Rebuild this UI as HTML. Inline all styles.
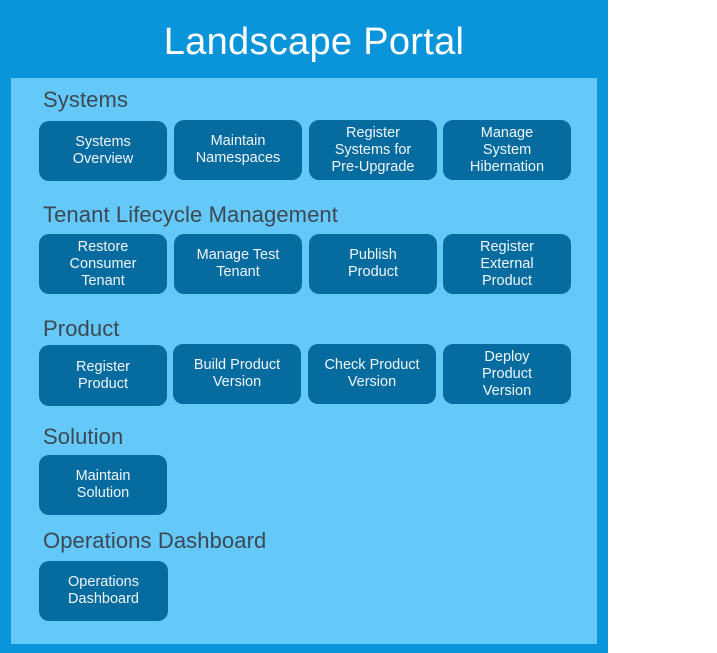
<!DOCTYPE html>
<html><head><meta charset="utf-8"><style>
body{margin:0;width:717px;height:653px;background:#fff;position:relative;overflow:hidden;font-family:"Liberation Sans",sans-serif}
.outer{position:absolute;left:0;top:0;width:608px;height:653px;background:#0a95db}
.inner{position:absolute;left:11px;top:78px;width:586px;height:566px;background:#64c8f9}
.title{position:absolute;left:0;width:628px;top:19px;text-align:center;color:#fff;font-size:38px;line-height:46px;letter-spacing:0.3px}
.h{position:absolute;left:43px;color:#3c4954;font-size:22px;line-height:24px;letter-spacing:0.1px}
.b{position:absolute;width:128px;height:60px;background:#066b9f;border-radius:10px;color:#eef6fb;font-size:14.5px;line-height:17px;display:flex;align-items:center;justify-content:center;text-align:center}
</style></head><body>
<div class="outer"></div><div class="inner"></div>
<div class="title">Landscape Portal</div>
<div class="h" style="top:88px">Systems</div>
<div class="b" style="left:39px;top:121px">Systems<br>Overview</div>
<div class="b" style="left:174px;top:120px">Maintain<br>Namespaces</div>
<div class="b" style="left:309px;top:120px">Register<br>Systems for<br>Pre-Upgrade</div>
<div class="b" style="left:443px;top:120px">Manage<br>System<br>Hibernation</div>
<div class="h" style="top:203px">Tenant Lifecycle Management</div>
<div class="b" style="left:39px;top:234px">Restore<br>Consumer<br>Tenant</div>
<div class="b" style="left:174px;top:234px">Manage Test<br>Tenant</div>
<div class="b" style="left:309px;top:234px">Publish<br>Product</div>
<div class="b" style="left:443px;top:234px">Register<br>External<br>Product</div>
<div class="h" style="top:317px">Product</div>
<div class="b" style="left:39px;top:345px;height:61px">Register<br>Product</div>
<div class="b" style="left:173px;top:344px">Build Product<br>Version</div>
<div class="b" style="left:308px;top:344px">Check Product<br>Version</div>
<div class="b" style="left:443px;top:344px">Deploy<br>Product<br>Version</div>
<div class="h" style="top:425px">Solution</div>
<div class="b" style="left:39px;top:455px">Maintain<br>Solution</div>
<div class="h" style="top:529px">Operations Dashboard</div>
<div class="b" style="left:39px;top:561px;width:129px">Operations<br>Dashboard</div>
</body></html>
